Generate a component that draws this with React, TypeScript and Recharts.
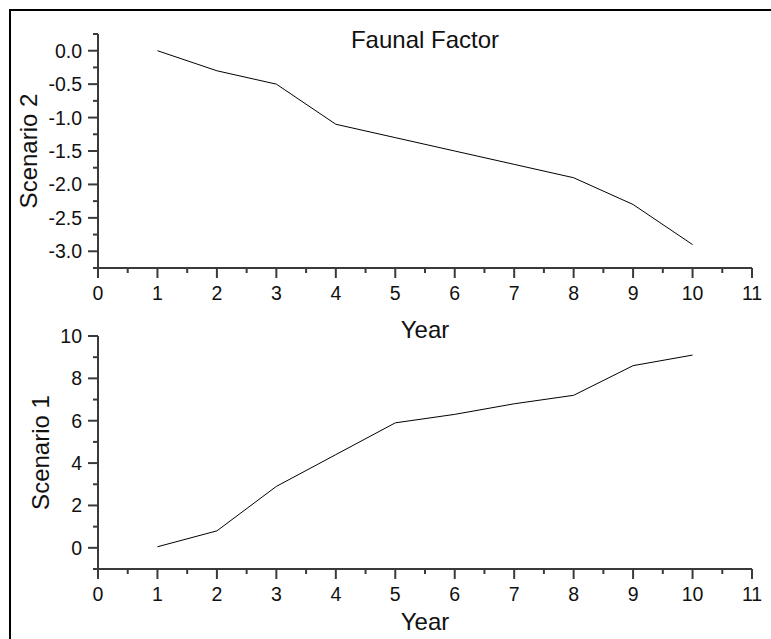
import { LineChart, Line, XAxis, YAxis, Label } from 'recharts'

const YEARS = [1, 2, 3, 4, 5, 6, 7, 8, 9, 10]
const SCENARIO_2 = [0.0, -0.3, -0.5, -1.1, -1.3, -1.5, -1.7, -1.9, -2.3, -2.9]
const SCENARIO_1 = [0.05, 0.8, 2.9, 4.4, 5.9, 6.3, 6.8, 7.2, 8.6, 9.1]

const X_TICKS = [0, 0.5, 1, 1.5, 2, 2.5, 3, 3.5, 4, 4.5, 5, 5.5, 6, 6.5, 7, 7.5, 8, 8.5, 9, 9.5, 10, 10.5, 11]
const X_LABELS = [0, 1, 2, 3, 4, 5, 6, 7, 8, 9, 10, 11]

const S2_TICKS = [-3.25, -3, -2.75, -2.5, -2.25, -2, -1.75, -1.5, -1.25, -1, -0.75, -0.5, -0.25, 0, 0.25]
const S2_LABELS = [-3, -2.5, -2, -1.5, -1, -0.5, 0]

const S1_TICKS = [-1, 0, 1, 2, 3, 4, 5, 6, 7, 8, 9, 10]
const S1_LABELS = [0, 2, 4, 6, 8, 10]

const AXIS = '#3a3a3a'
const INK = '#111'
const FONT = '"Liberation Sans", Arial, sans-serif'
const TICK_FONT = 19.5

const data2 = YEARS.map((year, i) => ({ year, value: SCENARIO_2[i] }))
const data1 = YEARS.map((year, i) => ({ year, value: SCENARIO_1[i] }))

const XTick = ({ x, y, payload }: any) => {
  const major = X_LABELS.includes(payload.value)
  return (
    <g>
      <line x1={x} x2={x} y1={y} y2={y + (major ? 10 : 5)} stroke={AXIS} strokeWidth={2} />
      {major && (
        <text x={x} y={y + 32} textAnchor="middle" fontSize={TICK_FONT} fill={INK}>
          {payload.value}
        </text>
      )}
    </g>
  )
}

const makeYTick = (labels: number[], fmt: (v: number) => string) => ({ x, y, payload }: any) => {
  const major = labels.includes(payload.value)
  return (
    <g>
      <line x1={x - (major ? 10 : 5)} x2={x} y1={y} y2={y} stroke={AXIS} strokeWidth={2} />
      {major && (
        <text x={x - 16} y={y} dy="0.36em" textAnchor="end" fontSize={TICK_FONT} fill={INK}>
          {fmt(payload.value)}
        </text>
      )}
    </g>
  )
}

const S2Tick = makeYTick(S2_LABELS, (v) => v.toFixed(1))
const S1Tick = makeYTick(S1_LABELS, (v) => String(v))

const labelStyle = { fontSize: 24, fill: INK }

const App = () => {
  return (
    <div style={{ position: 'absolute', left: 0, top: 0, width: 771, height: 639, background: '#fff', fontFamily: FONT }}>
      <div
        style={{
          position: 'absolute',
          left: 9,
          top: 9,
          right: 0,
          bottom: 0,
          borderTop: '2px solid #000',
          borderLeft: '2px solid #000',
        }}
      />
      <div style={{ position: 'absolute', left: 0, top: 0 }}>
        <LineChart width={771} height={345} data={data2} margin={{ top: 34, right: 19, left: 0, bottom: 0 }}>
          <XAxis
            dataKey="year"
            type="number"
            domain={[0, 11]}
            ticks={X_TICKS}
            interval={0}
            height={77}
            tickSize={0}
            tickMargin={0}
            tickLine={false}
            tick={<XTick />}
            axisLine={{ stroke: AXIS, strokeWidth: 2 }}
          >
            <Label value="Year" position="insideBottom" offset={7} style={labelStyle} />
          </XAxis>
          <YAxis
            type="number"
            domain={[-3.25, 0.25]}
            ticks={S2_TICKS}
            interval={0}
            width={98}
            allowDataOverflow
            tickSize={0}
            tickMargin={0}
            tickLine={false}
            tick={<S2Tick />}
            axisLine={{ stroke: AXIS, strokeWidth: 2 }}
          >
            <Label value="Scenario 2" angle={-90} position="insideLeft" offset={28} style={{ ...labelStyle, textAnchor: 'middle' }} />
          </YAxis>
          <Line type="linear" dataKey="value" stroke="#000" strokeWidth={1} dot={false} activeDot={false} isAnimationActive={false} />
        </LineChart>
      </div>
      <div style={{ position: 'absolute', left: 0, top: 300 }}>
        <LineChart width={771} height={339} data={data1} margin={{ top: 36, right: 19, left: 0, bottom: 0 }}>
          <XAxis
            dataKey="year"
            type="number"
            domain={[0, 11]}
            ticks={X_TICKS}
            interval={0}
            height={70}
            tickSize={0}
            tickMargin={0}
            tickLine={false}
            tick={<XTick />}
            axisLine={{ stroke: AXIS, strokeWidth: 2 }}
          >
            <Label value="Year" position="insideBottom" offset={9} style={labelStyle} />
          </XAxis>
          <YAxis
            type="number"
            domain={[-1, 10]}
            ticks={S1_TICKS}
            interval={0}
            width={98}
            allowDataOverflow
            tickSize={0}
            tickMargin={0}
            tickLine={false}
            tick={<S1Tick />}
            axisLine={{ stroke: AXIS, strokeWidth: 2 }}
          >
            <Label value="Scenario 1" angle={-90} position="insideLeft" offset={40} style={{ ...labelStyle, textAnchor: 'middle' }} />
          </YAxis>
          <Line type="linear" dataKey="value" stroke="#000" strokeWidth={1} dot={false} activeDot={false} isAnimationActive={false} />
        </LineChart>
      </div>
      <div
        style={{
          position: 'absolute',
          left: 0,
          width: 850,
          top: 28,
          fontSize: 24,
          lineHeight: '24px',
          color: INK,
          textAlign: 'center',
        }}
      >
        Faunal Factor
      </div>
    </div>
  )
}

export default App
